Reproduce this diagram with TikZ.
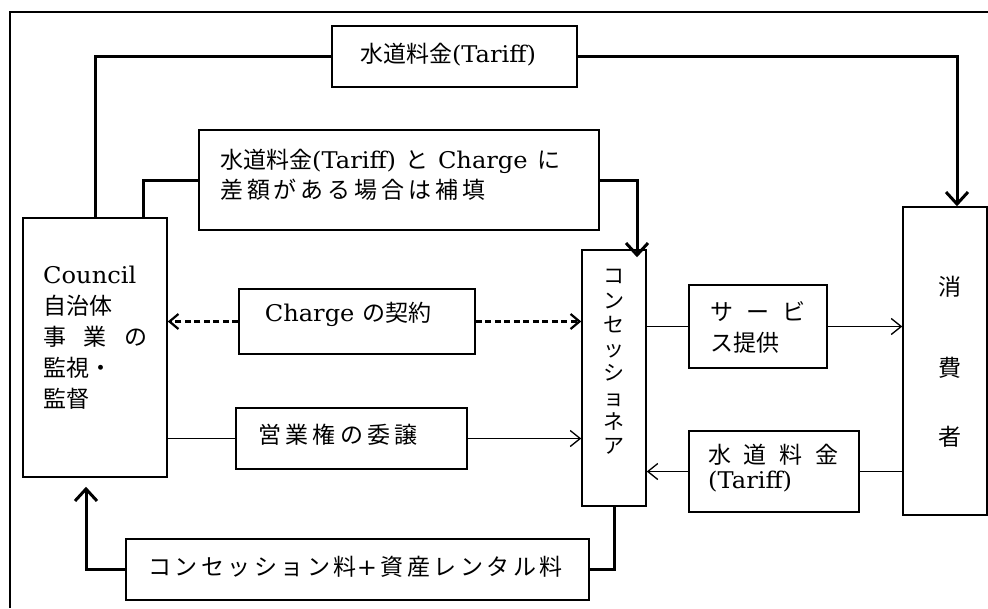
\documentclass[tikz,border=0pt]{standalone}
\usepackage{fontspec}
\setmainfont{DejaVu Serif}[FakeStretch=1.05]
\newfontfamily\jpfont{Noto Sans CJK JP}
\usetikzlibrary{arrows.meta}
\newcommand\jj[1]{{\jpfont #1}}
\begin{document}
\begin{tikzpicture}[x=1pt,y=-1pt,
  box/.style={draw,line width=1.5pt,inner sep=0pt},
  txt/.style={inner sep=0pt,font=\fontsize{23}{28}\selectfont},
  thickline/.style={line width=3pt},
  thinline/.style={line width=1.3pt},
  dashline/.style={line width=2.2pt,dash pattern=on 6pt off 3.5pt},
  tipT/.style={-{Straight Barb[length=12pt,width=22pt]}},
  tipt/.style={-{Straight Barb[length=10pt,width=16pt]}},
  tipd/.style={-{Straight Barb[length=9pt,width=15pt]}},
]
\useasboundingbox (0,0) rectangle (988,608);
\draw[line width=2pt] (10,608) -- (10,12) -- (988,12);

% boxes
\node[box,minimum width=245pt,minimum height=61pt] (topbox) at (454.5,56.5) {};
\node[box,minimum width=400pt,minimum height=100pt] (box2) at (399,180) {};
\node[box,minimum width=144pt,minimum height=259pt] (council) at (95,347.5) {};
\node[box,minimum width=236pt,minimum height=65pt] (charge) at (357,321.5) {};
\node[box,minimum width=231pt,minimum height=61pt] (eigyo) at (351.5,438.5) {};
\node[box,minimum width=463pt,minimum height=61pt] (bottom) at (357.5,569.5) {};
\node[box,minimum width=64pt,minimum height=256pt] (conc) at (614,378) {};
\node[box,minimum width=138pt,minimum height=83pt] (service) at (758,326.5) {};
\node[box,minimum width=170pt,minimum height=81pt] (tariff2) at (774,471.5) {};
\node[box,minimum width=84pt,minimum height=308pt] (consumer) at (945,361) {};

% texts
\node[txt] (t1) at (448,55) {\jj{水道料金}(Tariff)};
\node[txt,anchor=west,align=left,font=\fontsize{23}{30}\selectfont] (t2) at (220,175)
  {\makebox[340pt][s]{\jj{水道料金}(Tariff) \jj{と} Charge \jj{に}}\\
   \makebox[265pt][s]{\jj{差\hfil 額\hfil が\hfil あ\hfil る\hfil 場\hfil 合\hfil は\hfil 補\hfil 填}}};
\node[txt,anchor=west,align=left,font=\fontsize{23}{31}\selectfont] (t3) at (43,338)
  {Council\\ \jj{自治体}\\ \makebox[104pt][s]{\jj{事\hfil 業\hfil の}}\\ \jj{監視・}\\ \jj{監督}};
\node[txt] (t4) at (348,314) {Charge \jj{の契約}};
\node[txt] (t5) at (338,435) {\makebox[159pt][s]{\jj{営\hfil 業\hfil 権\hfil の\hfil 委\hfil 譲}}};
\node[txt] (t6) at (355.5,567) {\makebox[415pt][s]{\jj{コ\hfil ン\hfil セ\hfil ッ\hfil シ\hfil ョ\hfil ン\hfil 料}+\hfil\jj{資\hfil 産\hfil レ\hfil ン\hfil タ\hfil ル\hfil 料}}};
\node[txt,align=center,font=\fontsize{21}{24.3}\selectfont] (t7) at (614,362)
  {\jj{コ}\\ \jj{ン}\\ \jj{セ}\\ \jj{ッ}\\ \jj{シ}\\ \jj{ョ}\\ \jj{ネ}\\ \jj{ア}};
\node[txt,anchor=west,align=left,font=\fontsize{23}{31}\selectfont] (t8) at (710,327.5)
  {\makebox[95pt][s]{\jj{サ\hfil ー\hfil ビ}}\\ \jj{ス提供}};
\node[txt,anchor=west,align=left,font=\fontsize{23}{25}\selectfont] (t9) at (708,468.5)
  {\makebox[130pt][s]{\jj{水\hfil 道\hfil 料\hfil 金}}\\ (Tariff)};
\node[txt,align=center,font=\fontsize{23}{25}\selectfont] (t10) at (950,362)
  {\jj{消}\\[56pt] \jj{費}\\[44pt] \jj{者}};

% thick connectors
\draw[thickline] ([xshift=73pt]council.north west) |- (topbox.west);
\draw[thickline,tipT] (topbox.east) -| ([xshift=12pt]consumer.north);
\draw[thickline] ([xshift=121pt]council.north west) |- (box2.west);
\draw[thickline,tipT] (box2.east) -| ([xshift=23pt,yshift=-8pt]conc.north);
\draw[thickline] (conc.south) |- (bottom.east);
\draw[thickline,tipT,shorten >=9pt] (bottom.west) -| ([xshift=-9pt]council.south);

% dashed
\draw[dashline,tipd] (charge.west) -- (charge.west -| council.east);
\draw[dashline,tipd] (charge.east) -- (charge.east -| conc.west);

% thin
\draw[thinline] (eigyo.west -| council.east) -- (eigyo.west);
\draw[thinline,tipt] (eigyo.east) -- (eigyo.east -| conc.west);
\draw[thinline] (service.west -| conc.east) -- (service.west);
\draw[thinline,tipt] (service.east) -- (service.east -| consumer.west);
\draw[thinline] (tariff2.east -| consumer.west) -- (tariff2.east);
\draw[thinline,tipt] (tariff2.west) -- (tariff2.west -| conc.east);
\end{tikzpicture}
\end{document}
